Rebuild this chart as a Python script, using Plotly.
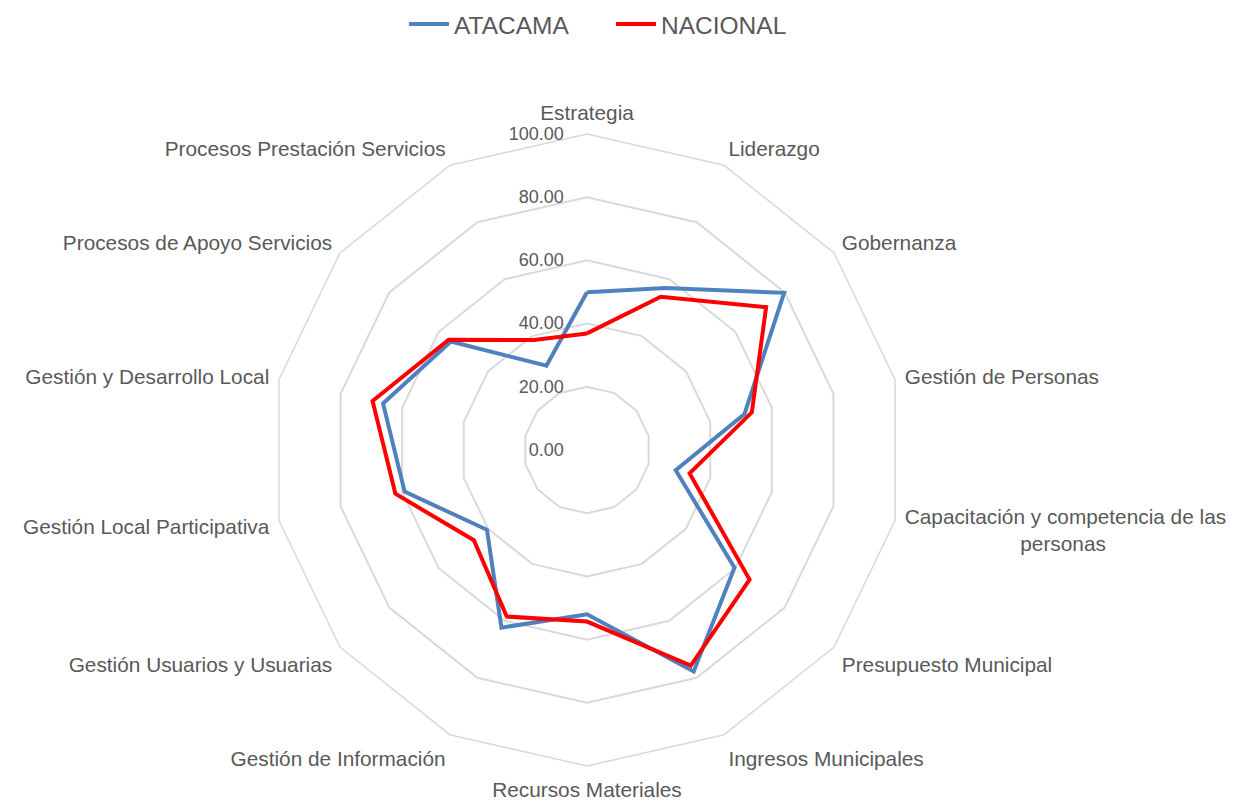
import plotly.graph_objects as go

NB = "\u00a0"
categories = [
    "Estrategia", "Liderazgo", "Gobernanza", "Gestión de Personas",
    "Capacitación y competencia de las<br>" + NB * 20 + "personas", "Presupuesto Municipal",
    "Ingresos Municipales", "Recursos Materiales", "Gestión de Información",
    "Gestión Usuarios y Usuarias", "Gestión Local Participativa",
    "Gestión y Desarrollo Local", "Procesos de Apoyo Servicios",
    "Procesos Prestación Servicios",
]
atacama = [49.9, 56.9, 79.8, 51.1, 28.8, 59.7, 77.8, 52.0, 62.4, 40.5, 59.2, 66.2, 55.1, 29.6]
nacional = [36.9, 53.8, 72.5, 53.5, 33.3, 65.8, 75.7, 54.3, 58.5, 45.8, 62.2, 69.6, 56.0, 38.6]
radial_ticks = [0, 20, 40, 60, 80, 100]
radial_labels = ["0.00", "20.00", "40.00", "60.00", "80.00", "100.00"]

fig = go.Figure()
fig.add_trace(go.Scatterpolar(
    r=atacama + atacama[:1], theta=categories + categories[:1],
    mode="lines", name="ATACAMA",
    line=dict(color="#4F81BD", width=4)))
fig.add_trace(go.Scatterpolar(
    r=nacional + nacional[:1], theta=categories + categories[:1],
    mode="lines", name="NACIONAL",
    line=dict(color="#FF0000", width=4)))

W, H = 1241, 803
cx, cy, R = 579, 442, 316
fig.update_layout(
    width=W, height=H,
    margin=dict(l=0, r=0, t=0, b=0, autoexpand=False),
    paper_bgcolor="white",
    font=dict(family="Liberation Sans, Arial, sans-serif", color="#595959"),
    showlegend=True,
    legend=dict(orientation="h", x=396 / W, xanchor="left", y=1.008, yanchor="top",
                font=dict(size=24.5, color="#595959"), itemwidth=40,
                entrywidth=152, entrywidthmode="pixels"),
    polar=dict(
        domain=dict(x=[(cx - R) / W, (cx + R) / W], y=[(H - cy - R) / H, (H - cy + R) / H]),
        gridshape="linear",
        bgcolor="rgba(0,0,0,0)",
        radialaxis=dict(
            range=[0, 100], tickvals=radial_ticks,
            ticktext=[t + NB * 4 for t in radial_labels],
            angle=90, tickangle=90, side="counterclockwise", showline=False, ticks="",
            gridcolor="#D9D9D9", gridwidth=1.5,
            tickfont=dict(size=18, color="#595959"),
        ),
        angularaxis=dict(
            direction="clockwise", rotation=90,
            showgrid=False, showline=True, linecolor="#D9D9D9", linewidth=1.5,
            ticks="outside", ticklen=5, tickcolor="rgba(0,0,0,0)",
            tickfont=dict(size=20.8, color="#595959"),
        ),
    ),
)
fig.write_html("out.html")
